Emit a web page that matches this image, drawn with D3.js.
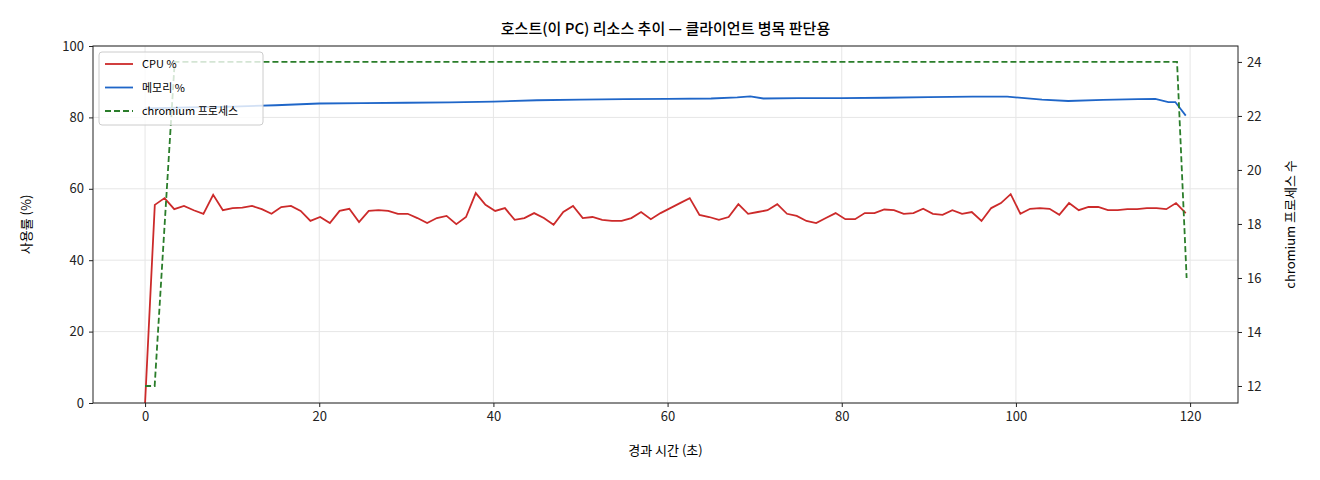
<!DOCTYPE html><html><head><meta charset="utf-8">
<script src="https://cdn.jsdelivr.net/npm/d3@7/dist/d3.min.js"></script>
<style>body{margin:0;background:#fff}text{font-family:"Noto Sans CJK KR","DejaVu Sans",sans-serif}</style></head><body>
<svg id="c" width="1320" height="480"></svg>
<script>
const cpu=[0,55.5,57.4,54.3,55.2,54,53,58.3,54,54.6,54.7,55.2,54.3,53,54.9,55.2,53.8,51,52.1,50.4,53.8,54.4,50.7,53.8,54,53.8,53,53,51.8,50.4,51.8,52.4,50.1,52.1,58.8,55.5,53.8,54.6,51.3,51.8,53.2,51.8,49.9,53.5,55.2,51.8,52.1,51.3,51,51,51.8,53.5,51.5,53.2,54.6,56,57.4,52.7,52.1,51.3,52.1,55.7,53,53.5,54,55.7,53,52.4,51,50.4,51.8,53.2,51.5,51.5,53.2,53.2,54.2,54,53,53.2,54.4,53,52.7,54,53,53.5,51,54.6,56,58.5,53,54.4,54.6,54.4,52.7,56,54,54.9,54.9,54,54,54.3,54.3,54.6,54.6,54.3,56,53.2];
const tEnd=119.5;
const memT=[0,5,10,15,20,25,30,35,40,45,50,55,60,65,68,69.5,71,75,80,85,90,95,99,103,106,110,114,116,117.5,118.3,119.5];
const memV=[82.5,82.8,83,83.4,83.9,84,84.1,84.2,84.4,84.8,85,85.1,85.2,85.3,85.6,85.9,85.3,85.4,85.4,85.5,85.7,85.8,85.8,85,84.6,84.9,85.1,85.2,84.3,84.3,80.5];
const chT=[0,1.1,3.4,118.5,119.6];
const chV=[12,12,24,24,16];
const xTicks=[0,20,40,60,80,100,120],yTicks=[0,20,40,60,80,100],y2Ticks=[12,14,16,18,20,22,24];
const svg=d3.select("#c");
const L=93,R=1238,T=46,B=403;
const x=d3.scaleLinear().domain([-5.98,125.5]).range([L,R]);
const y=d3.scaleLinear().domain([0,100]).range([B,T]);
const y2=d3.scaleLinear().domain([11.37,24.59]).range([B,T]);
const step=tEnd/(cpu.length-1);
const cpuD=cpu.map((v,i)=>[i*step,v]);
const g=svg.append("g");
g.selectAll(".gx").data(xTicks).join("line").attr("x1",d=>x(d)).attr("x2",d=>x(d)).attr("y1",T).attr("y2",B).attr("stroke","#e6e6e6");
g.selectAll(".gy").data(yTicks).join("line").attr("y1",d=>y(d)).attr("y2",d=>y(d)).attr("x1",L).attr("x2",R).attr("stroke","#e6e6e6");
const line=d3.line().x(d=>x(d[0])).y(d=>y(d[1]));
svg.append("path").datum(cpuD).attr("d",line).attr("fill","none").attr("stroke","#cc2a2a").attr("stroke-width",1.8);
svg.append("path").datum(memT.map((t,i)=>[t,memV[i]])).attr("d",line).attr("fill","none").attr("stroke","#1f66c8").attr("stroke-width",1.8);
svg.append("path").datum(chT.map((t,i)=>[t,chV[i]])).attr("d",d3.line().x(d=>x(d[0])).y(d=>y2(d[1]))).attr("fill","none").attr("stroke","#2a7d2a").attr("stroke-width",1.8).attr("stroke-dasharray","6,3");
const fx=svg.append("g").attr("transform",`translate(0,${B})`).call(d3.axisBottom(x).tickValues(xTicks).tickSize(4).tickPadding(5));
const fy=svg.append("g").attr("transform",`translate(${L},0)`).call(d3.axisLeft(y).tickValues(yTicks).tickSize(4).tickPadding(5));
const fy2=svg.append("g").attr("transform",`translate(${R},0)`).call(d3.axisRight(y2).tickValues(y2Ticks).tickSize(4).tickPadding(5));
[fx,fy,fy2].forEach(a=>{a.select(".domain").remove();a.selectAll("text").attr("font-size",13).attr("fill","#222").style("font-family","'Noto Sans CJK KR'");a.selectAll("line").attr("stroke","#222");});
svg.append("rect").attr("x",L).attr("y",T).attr("width",R-L).attr("height",B-T).attr("fill","none").attr("stroke","#222").attr("stroke-width",1);
svg.append("text").attr("x",(L+R)/2).attr("y",34).attr("text-anchor","middle").attr("font-size",15).attr("font-weight",500).text("호스트(이 PC) 리소스 추이 — 클라이언트 병목 판단용");
svg.append("text").attr("x",(L+R)/2).attr("y",455).attr("text-anchor","middle").attr("font-size",13).text("경과 시간 (초)");
svg.append("text").attr("transform",`translate(31,${(T+B)/2}) rotate(-90)`).attr("text-anchor","middle").attr("font-size",13).text("사용률 (%)");
svg.append("text").attr("transform",`translate(1295,${(T+B)/2}) rotate(-90)`).attr("text-anchor","middle").attr("font-size",13).text("chromium 프로세스 수");
const lg=svg.append("g");
lg.append("rect").attr("x",99).attr("y",52).attr("width",164).attr("height",73).attr("rx",3).attr("fill","rgba(255,255,255,0.8)").attr("stroke","#ccc");
const items=[["CPU %","#cc2a2a",null],["메모리 %","#1f66c8",null],["chromium 프로세스","#2a7d2a","6,3"]];
items.forEach((it,i)=>{const yy=64+i*23.5;
lg.append("line").attr("x1",105).attr("x2",133).attr("y1",yy).attr("y2",yy).attr("stroke",it[1]).attr("stroke-width",1.8).attr("stroke-dasharray",it[2]);
lg.append("text").attr("x",142).attr("y",yy+4).attr("font-size",11).text(it[0]);});
</script></body></html>
